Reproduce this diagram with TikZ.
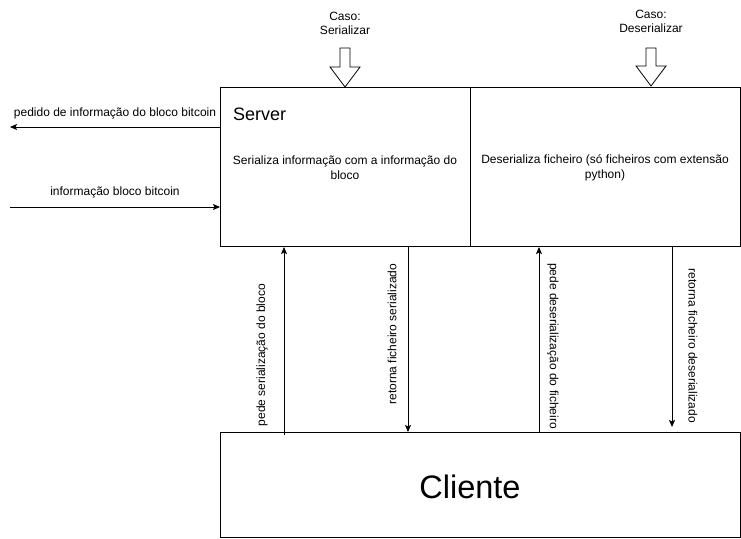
\documentclass[tikz,border=0pt]{standalone}
\usepackage{fontspec}
\setmainfont{Liberation Sans}
\usetikzlibrary{arrows.meta}
\begin{document}
\begin{tikzpicture}[x=1pt,y=-1pt,
  box/.style={draw, line width=1pt, inner sep=0pt},
  lbl/.style={font=\fontsize{12}{14}\selectfont, inner sep=0pt, align=center},
  conn/.style={line width=0.8pt, -{Stealth[length=7pt,width=6pt,inset=1.5pt]}},
  hollow/.style={draw, line width=0.8pt, fill=white}]
\useasboundingbox[fill=white] (0,0) rectangle (741,538);
% boxes
\node[box, minimum width=250pt, minimum height=159pt, anchor=north west] (srv) at (220,87) {};
\node[box, minimum width=270pt, minimum height=159pt, anchor=north west] (des) at (470,87) {};
\node[box, minimum width=520pt, minimum height=105pt, anchor=north west] (cli) at (220,432) {};
\node[lbl] (clit) at (470,487) {\fontsize{32.5}{38}\selectfont Cliente};
% box texts
\node[lbl, anchor=west] (srvt) at (233,114) {\fontsize{18}{21}\selectfont Server};
\node[lbl, font=\fontsize{12}{15}\selectfont] (srvd) at (345,168) {Serializa informação com a informação do\\bloco};
\node[lbl, font=\fontsize{12}{15}\selectfont] (desd) at (605,168) {Deserializa ficheiro (só ficheiros com extensão\\python)};
% top cases
\node[lbl] (cs) at (345,23) {Caso:\\Serializar};
\node[lbl] (cd) at (651,21) {Caso:\\Deserializar};
\coordinate (t1) at (345,87);
\coordinate (t2) at (651,86);
\path[hollow] (t1) -- ++(15,-20) -- ++(-10,0) -- ++(0,-19) -- ++(-10,0) -- ++(0,19) -- ++(-10,0) -- cycle;
\path[hollow] (t2) -- ++(15,-20) -- ++(-10,0) -- ++(0,-18) -- ++(-10,0) -- ++(0,18) -- ++(-10,0) -- cycle;
% left arrows
\coordinate (lo) at (10,127);
\coordinate (li) at (10,207);
\draw[conn] (srv.west |- lo) -- (lo);
\draw[conn] (li) -- (srv.west |- li);
\node[lbl] (lot) at (115,113) {pedido de informação do bloco bitcoin};
\node[lbl] (lit) at (115,192) {informação bloco bitcoin};
% vertical arrows
\coordinate (p1) at (284,0);
\coordinate (p2) at (408,0);
\coordinate (p3) at (539,0);
\coordinate (p4) at (672,0);
\draw[conn] ([yshift=-3pt]cli.north -| p1) -- (srv.south -| p1);
\draw[conn] (srv.south -| p2) -- (cli.north -| p2);
\draw[conn] (cli.north -| p3) -- (des.south -| p3);
\draw[conn] (des.south -| p4) -- ([yshift=5pt]cli.north -| p4);
\node[lbl, rotate=90] (l1) at (262,355) {pede serialização do bloco};
\node[lbl, rotate=90] (l2) at (392,334) {retorna ficheiro serializado};
\node[lbl, rotate=-90] (l3) at (553,346) {pede deserialização do ficheiro};
\node[lbl, rotate=-90] (l4) at (693,346) {retorna ficheiro deserializado};
\end{tikzpicture}
\end{document}
